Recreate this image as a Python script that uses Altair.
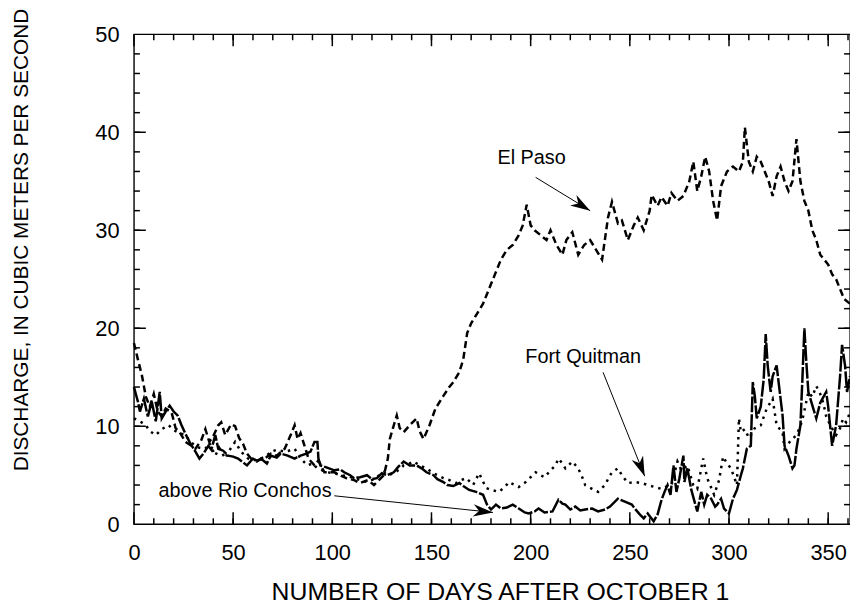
import math
import altair as alt
import pandas as pd

# ---------------- data ----------------
elpaso_day = [0, 2, 4, 6, 8, 10, 12, 14, 16, 19, 21, 23, 26, 29, 31, 34, 36, 38, 40, 42.5, 44, 46, 49, 51, 53, 55, 57, 59,
              62, 66, 69, 72, 76, 79, 81, 82.5, 84, 86, 88, 91, 93, 96, 101, 104, 107, 111, 114, 118, 121, 124, 126, 128,
              129, 131, 132.5, 134, 136, 139, 142.5, 144, 146, 149, 152, 156, 159, 161, 164, 166, 168, 170, 173, 176,
              179, 182, 185, 188, 191, 194, 196, 198, 200, 202, 205, 208, 210, 213, 216, 218, 221, 224, 227, 230, 233,
              236, 239, 241, 244, 246, 249, 252, 254, 257, 260, 261, 264, 266, 269, 271, 274, 277, 280, 282, 284, 286,
              288, 290, 292, 294, 296, 299, 302, 305, 307, 308, 310, 312, 314, 316, 318, 320, 322, 324, 326, 328, 330,
              332, 334, 336, 338, 340, 342, 344, 346, 348, 350, 352, 354, 356, 358, 361]
elpaso_q = [18.5, 16.8, 15.2, 13.0, 12.0, 13.3, 11.5, 11.0, 11.8, 11.4, 9.8, 9.4, 8.4, 8.0, 7.7, 8.6, 9.7, 8.4, 9.0, 10.1,
            10.4, 9.1, 10.2, 10.0, 8.8, 8.2, 7.2, 6.7, 6.5, 6.7, 7.2, 7.0, 7.7, 9.1, 10.1, 8.7, 9.3, 8.0, 6.7, 6.0, 6.5,
            5.3, 5.3, 5.0, 4.7, 4.5, 4.2, 4.5, 4.0, 4.6, 5.0, 6.7, 8.7, 10.1, 11.1, 9.8, 9.4, 10.1, 10.8, 9.5, 8.7, 10.1,
            11.8, 13.1, 14.0, 14.5, 15.5, 16.8, 19.5, 20.5, 21.5, 22.5, 24.0, 25.5, 27.0, 28.0, 28.5, 29.5, 30.5, 32.6,
            30.5, 30.0, 29.5, 29.0, 30.0, 28.5, 27.5, 29.0, 29.8, 27.5, 28.5, 29.0, 28.0, 27.0, 31.3, 32.9, 30.7, 31.0,
            29.0, 30.5, 31.3, 30.0, 32.0, 33.6, 32.5, 33.4, 32.5, 33.8, 33.0, 33.5, 35.0, 37.0, 34.0, 35.5, 37.5, 36.0,
            33.0, 31.0, 34.5, 36.0, 36.5, 36.0, 37.0, 40.5, 37.0, 36.0, 37.5, 37.0, 36.0, 35.0, 33.5, 35.5, 36.5, 35.0,
            34.0, 35.0, 39.3, 35.0, 33.0, 32.0, 30.0, 29.0, 27.5, 27.0, 26.5, 25.5, 25.0, 24.0, 23.0, 22.5]

quitman_day = [0, 3, 6, 8, 11, 14, 17.5, 20, 23, 26, 28, 31, 33, 36, 38, 41, 43, 46, 48, 51, 54, 57.5, 60, 64, 67, 69,
               72, 76, 78, 81, 84, 87.5, 90, 92.5, 95, 97.5, 101, 104, 108, 111, 114, 117.5, 121, 123, 126, 128, 131,
               134, 136, 139, 141, 144, 147.5, 151, 153, 156, 159, 162.5, 165, 167.5, 171, 174, 177.5, 180, 184, 187,
               189, 192, 194, 197.5, 200, 202.5, 205, 207, 210, 212.5, 214, 216, 217.5, 219, 221, 224, 226, 227.5, 231,
               234, 237.5, 239, 241, 244, 246, 249, 252.5, 256, 259, 262.5, 266, 268, 271, 274, 276, 279, 282, 284,
               287, 289, 292.5, 295, 297, 299, 301, 304, 305, 306, 308, 310, 311, 313, 316, 319, 322, 324, 327, 328,
               331, 334, 336, 337.5, 340, 342, 344, 346, 347.5, 349, 351, 354, 356, 357.5, 359, 361]
quitman_q = [10.8, 10.5, 10.1, 9.5, 9.1, 9.7, 10.1, 9.6, 9.3, 9.1, 8.5, 8.0, 7.8, 7.7, 8.3, 7.0, 7.8, 6.7, 7.5, 8.4, 7.4,
             6.7, 6.5, 6.7, 7.0, 7.4, 7.6, 7.4, 7.5, 7.7, 6.7, 6.0, 6.2, 5.7, 5.5, 5.3, 5.2, 5.0, 4.9, 4.7, 4.5, 4.3,
             4.6, 4.9, 5.3, 5.0, 5.2, 5.6, 6.0, 6.2, 6.4, 6.0, 5.7, 5.2, 5.0, 4.7, 4.5, 4.2, 4.5, 4.7, 4.0, 5.2, 3.7,
             3.5, 3.3, 3.8, 4.3, 4.0, 3.8, 4.3, 4.8, 5.3, 5.0, 4.8, 5.5, 6.0, 6.7, 6.2, 5.7, 6.0, 6.4, 5.7, 4.8, 4.0,
             3.6, 3.3, 4.0, 4.6, 5.3, 5.7, 5.0, 4.2, 4.3, 4.2, 4.0, 3.8, 3.6, 3.8, 4.0, 6.4, 5.5, 6.0, 4.0, 3.6, 6.7,
             4.7, 3.0, 4.5, 6.9, 6.2, 5.7, 4.0, 10.8, 9.4, 9.7, 8.8, 9.1, 9.8, 10.1, 11.8, 12.8, 10.1, 9.4, 7.7, 8.5,
             9.1, 10.0, 11.1, 13.5, 13.0, 14.1, 13.3, 12.4, 11.0, 10.1, 9.1, 9.8, 10.8, 10.4, 11.4]

conchos_day = [0, 2, 3, 5, 7, 9, 11, 13, 14, 16, 18, 20, 22, 24, 26, 28, 31, 33, 35, 37.5, 39, 41, 42.5, 45, 47.5, 50,
               52.5, 55, 57, 60, 62, 64, 67, 69, 72, 74, 77.5, 81, 84, 87, 89, 91, 92.5, 93, 94, 97, 101, 104, 106, 109,
               111, 114, 117.5, 120, 122.5, 125, 127.5, 131, 133, 136, 139, 142.5, 145, 147.5, 151, 153, 156, 158, 161,
               164, 166, 169, 172.5, 176, 178, 180, 182.5, 185, 188, 191, 194, 197, 199, 202, 204, 207, 211, 214, 216,
               217.5, 220, 222.5, 225, 227.5, 231, 234, 237.5, 240, 244, 247.5, 251, 252.5, 255, 257, 259, 262, 264,
               266, 267.5, 269, 270.5, 272, 273.5, 275, 277, 277.5, 279, 281, 284, 286, 287.5, 289, 291, 293, 294, 296,
               297.5, 300, 302, 304, 306, 307, 309, 311, 312, 313, 314, 316, 317.5, 318.5, 319.5, 321, 322, 324, 325,
               327, 328, 330, 332, 333, 334, 336, 337, 338, 339, 340, 342.5, 344, 346, 349, 350, 352, 354, 356, 357,
               358.5, 359.5, 361]
conchos_q = [14.0, 12.5, 11.5, 12.8, 11.0, 12.5, 10.5, 13.5, 10.8, 11.5, 12.1, 11.5, 11.1, 10.1, 9.2, 8.4, 7.4, 6.7, 7.2,
             8.0, 7.6, 9.1, 7.7, 7.5, 7.0, 6.9, 6.7, 6.3, 6.0, 6.7, 6.4, 6.7, 6.2, 7.0, 6.8, 7.2, 7.0, 6.7, 7.0, 7.2,
             7.4, 8.4, 8.4, 6.7, 6.0, 5.8, 5.5, 5.6, 5.3, 5.0, 4.7, 4.8, 5.0, 4.6, 4.7, 5.2, 5.0, 5.3, 5.8, 6.4, 6.0,
             6.0, 5.7, 5.3, 5.0, 4.6, 4.3, 4.0, 3.9, 4.2, 3.9, 3.5, 3.3, 3.0, 2.0, 1.5, 2.0, 1.6, 1.7, 2.0, 1.6, 1.2,
             1.1, 1.3, 1.6, 1.2, 1.3, 2.5, 2.1, 2.0, 1.5, 1.8, 1.4, 1.5, 1.6, 1.3, 1.5, 1.8, 2.6, 2.3, 2.0, 1.6, 1.0,
             0.6, 1.1, 0.3, 1.0, 2.5, 3.3, 4.0, 3.0, 6.0, 3.3, 4.7, 7.0, 4.3, 5.7, 3.5, 1.3, 3.3, 2.0, 3.0, 2.6, 1.8,
             2.0, 2.6, 1.6, 1.1, 2.6, 3.5, 5.0, 5.7, 7.7, 8.0, 14.5, 13.1, 10.8, 12.0, 14.8, 19.4, 16.2, 13.5, 15.1,
             16.2, 14.5, 11.1, 8.0, 7.0, 5.7, 6.0, 7.7, 10.1, 14.8, 20.0, 16.5, 13.5, 11.8, 10.8, 12.4, 13.5, 12.0,
             8.0, 10.1, 15.1, 18.3, 16.2, 13.5, 15.1]

series_names = ["El Paso", "Fort Quitman", "above Rio Conchos"]

# annotation labels and arrows (label position, arrow start, arrow tip) in data units
label_text = ["El Paso", "Fort Quitman", "above Rio Conchos"]
label_day = [200.5, 226.5, 56.0]
label_q = [37.4, 17.1, 3.35]
arrow_from_day = [202.5, 236.5, 101.0]
arrow_from_q = [35.4, 15.5, 2.9]
arrow_to_day = [230.0, 257.5, 181.0]
arrow_to_q = [32.0, 4.9, 1.2]

x_ticks_major = list(range(0, 351, 50))
x_ticks_minor = list(range(10, 361, 10))
y_ticks_major = list(range(10, 50, 10))
y_ticks_minor = list(range(2, 50, 2))

# ---------------- layout ----------------
W, H = 722, 494
XMAX, YMAX = 361, 50
FONT = "Liberation Sans"
MAJOR, MINOR = 12, 6          # tick lengths in pixels
PX_PER_DAY = W / XMAX
PX_PER_Q = H / YMAX

rows = []
for name, dd, qq in [(series_names[0], elpaso_day, elpaso_q),
                     (series_names[1], quitman_day, quitman_q),
                     (series_names[2], conchos_day, conchos_q)]:
    for d, q in zip(dd, qq):
        rows.append({"series": name, "day": d, "q": q})
df = pd.DataFrame(rows)

angles = []
for fd, fq, td, tq in zip(arrow_from_day, arrow_from_q, arrow_to_day, arrow_to_q):
    dx = (td - fd) * PX_PER_DAY
    dy = -(tq - fq) * PX_PER_Q
    angles.append(math.degrees(math.atan2(dy, dx)) % 360)
ann = pd.DataFrame({"label": label_text, "lx": label_day, "ly": label_q,
                    "fx": arrow_from_day, "fy": arrow_from_q,
                    "tx": arrow_to_day, "ty": arrow_to_q, "angle": angles})

xs = alt.Scale(domain=[0, XMAX], nice=False, zero=False)
ys = alt.Scale(domain=[0, YMAX], nice=False, zero=False)

main_x_axis = alt.Axis(values=x_ticks_major, ticks=False, tickSize=0, domain=False, grid=False,
                       labelFlush=False, labelOverlap=False,
                       labelFont=FONT, labelFontSize=22, labelColor="black", labelPadding=19,
                       title="NUMBER OF DAYS AFTER OCTOBER 1", titleFont=FONT, titleFontSize=25,
                       titleFontWeight="normal", titleColor="black", titleX=W / 2 + 8, titleY=68,
                       titleBaseline="middle", titleAlign="center")
main_y_axis = alt.Axis(values=list(range(0, 51, 10)), ticks=False, tickSize=0, domain=False, grid=False,
                       labelFlush=False, labelOverlap=False,
                       labelFont=FONT, labelFontSize=22, labelColor="black", labelPadding=15,
                       title="DISCHARGE, IN CUBIC METERS PER SECOND", titleFont=FONT, titleFontSize=21,
                       titleFontWeight="normal", titleColor="black", titleX=-113, titleY=207,
                       titleAngle=270, titleBaseline="middle", titleAlign="center")

lines = alt.Chart(df).mark_line(color="black", strokeWidth=2.5).encode(
    x=alt.X("day:Q", scale=xs, axis=main_x_axis),
    y=alt.Y("q:Q", scale=ys, axis=main_y_axis),
    strokeDash=alt.StrokeDash("series:N", legend=None,
                              scale=alt.Scale(domain=series_names, range=[[7, 4], [2.5, 5], [16, 2]])),
    detail="series:N",
    order="day:Q",
)

# inward tick marks on all four sides of the frame (drawn through the scales)
xt_day, xt_a, xt_b = [], [], []
for vals, size in [(x_ticks_minor, MINOR), (x_ticks_major, MAJOR)]:
    L = size / PX_PER_Q
    for v in vals:
        xt_day += [v, v]
        xt_a += [0, YMAX]
        xt_b += [L, YMAX - L]
yt_q, yt_a, yt_b = [], [], []
for vals, size in [(y_ticks_minor, MINOR), (y_ticks_major, MAJOR)]:
    L = size / PX_PER_DAY
    for v in vals:
        yt_q += [v, v]
        yt_a += [0, XMAX]
        yt_b += [L, XMAX - L]

xtick_df = pd.DataFrame({"tday": xt_day, "qa": xt_a, "qb": xt_b})
ytick_df = pd.DataFrame({"tq": yt_q, "da": yt_a, "db": yt_b})

xtick_layer = alt.Chart(xtick_df).mark_rule(color="black", strokeWidth=1.5).encode(
    x=alt.X("tday:Q", scale=xs, axis=None),
    y=alt.Y("qa:Q", scale=ys, axis=None),
    y2="qb:Q",
)
ytick_layer = alt.Chart(ytick_df).mark_rule(color="black", strokeWidth=1.5).encode(
    x=alt.X("da:Q", scale=xs, axis=None),
    x2="db:Q",
    y=alt.Y("tq:Q", scale=ys, axis=None),
)

labels = alt.Chart(ann).mark_text(font=FONT, fontSize=20, color="black", align="center", baseline="middle").encode(
    x=alt.X("lx:Q", scale=xs, axis=None),
    y=alt.Y("ly:Q", scale=ys, axis=None),
    text="label:N",
)
arrow_lines = alt.Chart(ann).mark_rule(color="black", strokeWidth=1).encode(
    x=alt.X("fx:Q", scale=xs, axis=None),
    y=alt.Y("fy:Q", scale=ys, axis=None),
    x2="tx:Q",
    y2="ty:Q",
)
heads = alt.Chart(ann).mark_point(shape="M0,0 L-2,-0.62 L-1.4,0 L-2,0.62 Z", filled=True, color="black",
                                  opacity=1, size=400, strokeWidth=0).encode(
    x=alt.X("tx:Q", scale=xs, axis=None),
    y=alt.Y("ty:Q", scale=ys, axis=None),
    angle=alt.Angle("angle:Q", scale=None),
)

chart = alt.layer(lines, xtick_layer, ytick_layer, arrow_lines, heads, labels).resolve_axis(
    x="independent", y="independent"
).properties(
    width=W, height=H,
    autosize=alt.AutoSizeParams(type="none"),
    padding={"left": 127, "top": 24, "right": 0, "bottom": 84},
    background="white",
).configure_view(stroke="black", strokeWidth=1.4)

chart.save("out.html", embed_options={"renderer": "svg", "actions": False})
